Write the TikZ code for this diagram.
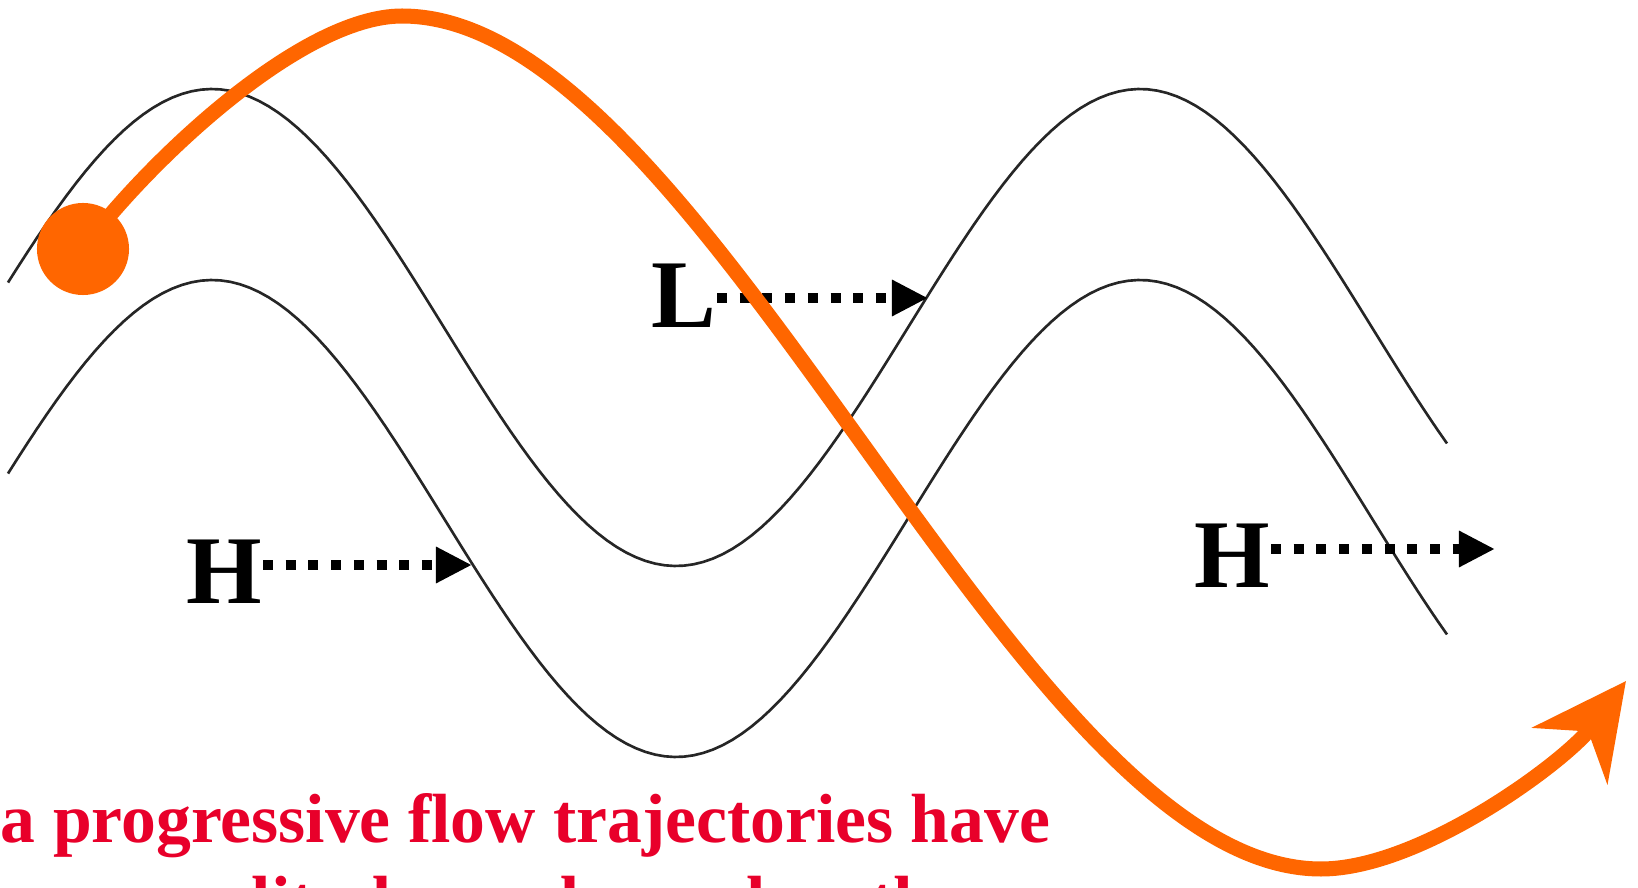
\documentclass[tikz,border=0pt]{standalone}
\usepackage{fontspec}
\setmainfont{Liberation Serif}
\usetikzlibrary{arrows.meta}
\definecolor{trajorange}{RGB}{255,102,0}
\definecolor{captionred}{RGB}{232,0,42}

\begin{document}
\begin{tikzpicture}[x=0.01cm, y=-0.01cm,
  streamline/.style={black!85, line width=0.75pt},
  pressure/.style={font=\fontsize{27.6pt}{30pt}\selectfont\bfseries, inner sep=0pt, text depth=0pt, anchor=east},
  drift/.style={line width=0.1cm, dash pattern=on 0.1cm off 0.127cm, -{Triangle[length=0.36cm, width=0.34cm]}},
  trajectory/.style={trajorange, line width=0.15cm, -{Stealth[length=0.93cm, width=0.93cm, inset=0.3cm]}},
  caption/.style={text=captionred, font=\fontsize{19.8pt}{23pt}\selectfont\bfseries, inner sep=0pt, anchor=base}]

\useasboundingbox (0,0) rectangle (1638,888);
\clip (0,0) rectangle (1638,888);

% --- Streamlines ---
\draw[streamline] plot[domain=8:1447, samples=150] (\x, {327.5-238.5*cos((\x-212)/928*360)});
\draw[streamline] plot[domain=8:1447, samples=150] (\x, {518.5-238.5*cos((\x-212)/928*360)});

% --- Highs and low drifting east ---
\node[pressure, text height=0.58cm] (L) at (717,298) {L};
\coordinate (Lend) at (928,298);
\draw[drift] (L.east) -- (Lend);

\node[pressure, text height=0.76cm] (H1) at (263,565) {H};
\coordinate (H1end) at (472,565);
\draw[drift] (H1.east) -- (H1end);

\node[pressure, text height=0.76cm] (H2) at (1271,549) {H};
\coordinate (H2end) at (1495,549);
\draw[drift] (H2.east) -- (H2end);

% --- Parcel trajectory ---
\node[circle, fill=trajorange, minimum size=0.92cm, inner sep=0pt] (parcel) at (83,249) {};
\coordinate (tip) at (1626,681);
\draw[trajectory] (parcel.center) .. controls (145,165) and (300,16) .. (402,16)
  .. controls (707,16) and (1016,869) .. (1321,869)
  .. controls (1421,869) and (1566,761) .. (tip);

% --- Caption ---
\node[caption] (line1) at (525.5,843) {a progressive flow trajectories have};
\node[caption] (line2) at (540,924) {amplitudes and wavelengths};

\end{tikzpicture}
\end{document}
